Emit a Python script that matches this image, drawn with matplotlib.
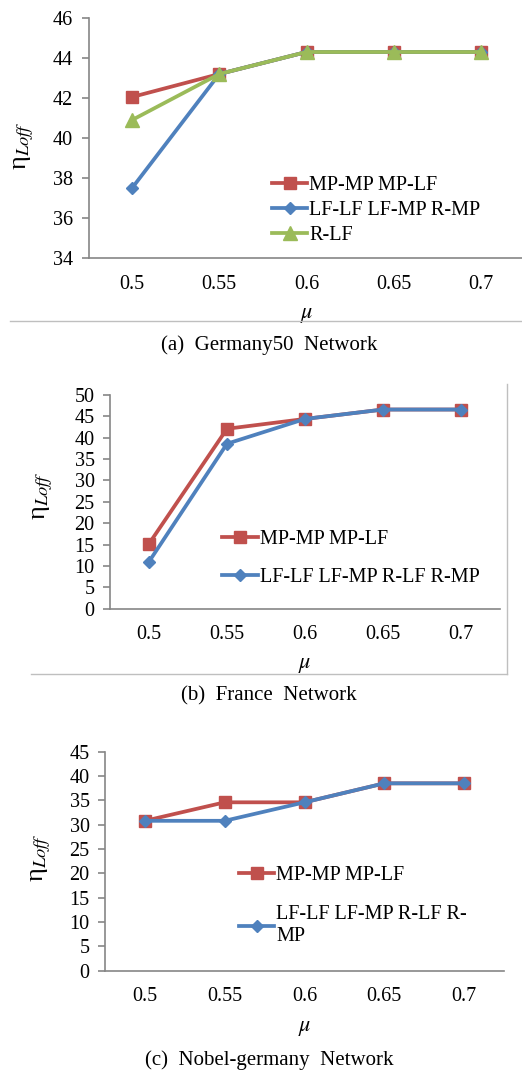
import matplotlib
matplotlib.use('Agg')
import matplotlib.pyplot as plt
from matplotlib.lines import Line2D

plt.rcParams['font.family'] = ['Liberation Serif', 'DejaVu Serif']
plt.rcParams['mathtext.fontset'] = 'stix'

mu = ['0.5', '0.55', '0.6', '0.65', '0.7']

# (a) Germany50
ger_mp = [42.05, 43.2, 44.3, 44.3, 44.3]
ger_lf = [37.5, 43.2, 44.3, 44.3, 44.3]
ger_rlf = [40.9, 43.2, 44.3, 44.3, 44.3]
ger_names = ['MP-MP MP-LF', 'LF-LF LF-MP R-MP', 'R-LF']

# (b) France
fr_mp = [15.2, 42.1, 44.4, 46.6, 46.6]
fr_lf = [11.0, 38.6, 44.4, 46.6, 46.6]
fr_names = ['MP-MP MP-LF', 'LF-LF LF-MP R-LF R-MP']

# (c) Nobel-germany
nob_mp = [30.8, 34.6, 34.6, 38.5, 38.5]
nob_lf = [30.8, 30.8, 34.6, 38.5, 38.5]
nob_names = ['MP-MP MP-LF', 'LF-LF LF-MP R-LF R-\nMP']

RED, BLUE, GREEN = '#C0504D', '#4F81BD', '#9BBB59'
AXC = '#868686'
W, H = 522, 1072

fig = plt.figure(figsize=(W / 100, H / 100), dpi=100)


def px_axes(left, right, top, bottom):
    return fig.add_axes([left / W, 1 - bottom / H, (right - left) / W, (bottom - top) / H])


def style(ax, ylim, yticks):
    x = range(len(mu))
    ax.set_xlim(-0.5, len(mu) - 0.5)
    ax.set_xticks(list(x))
    ax.set_xticklabels(mu)
    ax.set_ylim(*ylim)
    ax.set_yticks(yticks)
    for s in ['top', 'right']:
        ax.spines[s].set_visible(False)
    for s in ['left', 'bottom']:
        ax.spines[s].set_color(AXC)
        ax.spines[s].set_linewidth(1.2)
    ax.tick_params(axis='x', length=0, pad=12, labelsize=14.5)
    ax.tick_params(axis='y', length=5, width=1.2, color=AXC, pad=6, labelsize=14.5, direction='out')
    ax.set_xlabel(r'$\mu$', fontsize=16)
    ax.set_ylabel(r'η$_{Loff}$', fontsize=19)


def draw(ax, series):
    x = range(len(mu))
    for vals, col, mk, ms, lab in series:
        ax.plot(x, vals, color=col, lw=2.7, marker=mk, ms=ms, label=lab, clip_on=False)


leg_kw = dict(loc='center left', frameon=False, fontsize=14.5, handletextpad=0.1,
              borderpad=0, borderaxespad=0)

# ---- (a)
ax1 = px_axes(88.5, 524.5, 18, 258)
draw(ax1, [(ger_mp, RED, 's', 9, ger_names[0]),
           (ger_lf, BLUE, 'D', 6.5, ger_names[1]),
           (ger_rlf, GREEN, '^', 9.5, ger_names[2])])
style(ax1, (34, 46), range(34, 47, 2))
ax1.yaxis.set_label_coords(-0.12, 0.47)
ax1.xaxis.set_label_coords(0.5, -0.2)
ax1.legend(bbox_to_anchor=(0.421, 0.198), handlelength=1.75, labelspacing=0.28, **leg_kw)
fig.text(269 / W, 1 - 345 / H, '(a)  Germany50  Network', ha='center', va='center', fontsize=15)
fig.add_artist(Line2D([10 / W, 1], [1 - 321 / H] * 2, color='#BFBFBF', lw=1, transform=fig.transFigure))

# ---- (b)
ax2 = px_axes(110, 500, 395, 608.7)
draw(ax2, [(fr_mp, RED, 's', 9, fr_names[0]),
           (fr_lf, BLUE, 'D', 6.5, fr_names[1])])
style(ax2, (0, 50), range(0, 51, 5))
ax2.yaxis.set_label_coords(-0.141, 0.527)
ax2.xaxis.set_label_coords(0.5, -0.22)
ax2.legend(bbox_to_anchor=(0.287, 0.235), handlelength=1.8, labelspacing=0.9, **leg_kw)
fig.text(269 / W, 1 - 696 / H, '(b)  France  Network', ha='center', va='center', fontsize=15)
fig.add_artist(Line2D([31 / W, 507 / W], [1 - 674 / H] * 2, color='#BFBFBF', lw=1, transform=fig.transFigure))
fig.add_artist(Line2D([507 / W] * 2, [1 - 384 / H, 1 - 674 / H], color='#BFBFBF', lw=1, transform=fig.transFigure))

# ---- (c)
ax3 = px_axes(105, 504, 751.7, 970.7)
draw(ax3, [(nob_mp, RED, 's', 9, nob_names[0]),
           (nob_lf, BLUE, 'D', 6.5, nob_names[1])])
style(ax3, (0, 45), range(0, 46, 5))
ax3.yaxis.set_label_coords(-0.13, 0.515)
ax3.xaxis.set_label_coords(0.5, -0.22)
ax3.legend(bbox_to_anchor=(0.336, 0.295), handlelength=1.75, labelspacing=1.0, **leg_kw)
fig.text(269 / W, 1 - 1060 / H, '(c)  Nobel-germany  Network', ha='center', va='center', fontsize=15)

fig.savefig('out.png', dpi=100)
